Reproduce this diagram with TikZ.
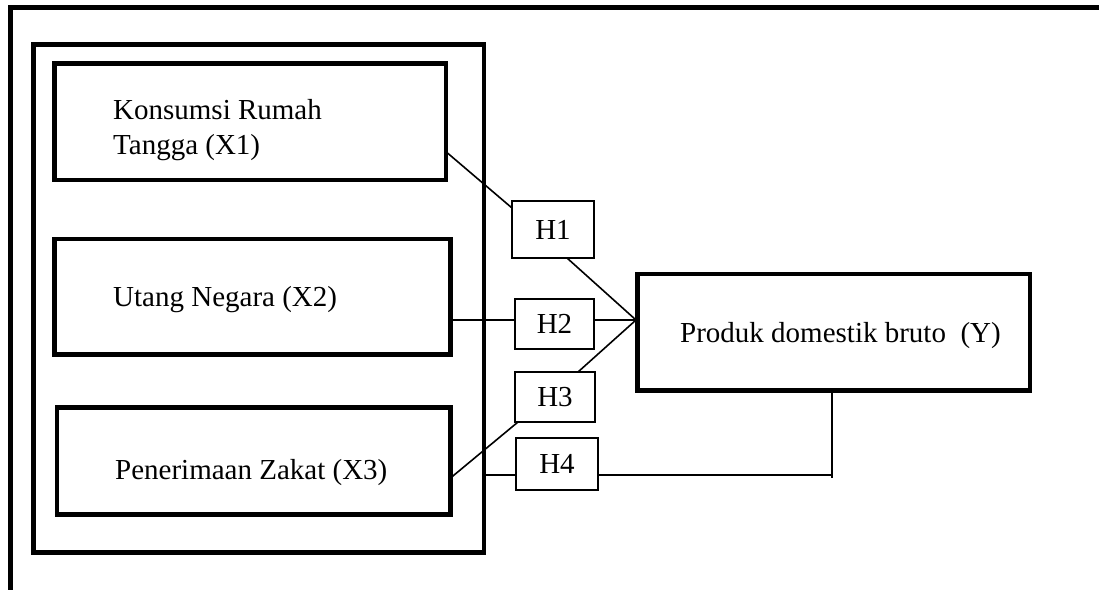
\documentclass[tikz,border=0pt]{standalone}
\usepackage{fontspec}
\setmainfont{Liberation Serif}
\begin{document}
\begin{tikzpicture}[x=1pt,y=-1pt,
  frame/.style={line width=5pt},
  bigbox/.style={draw, line width=4.8pt, inner sep=0pt, outer sep=0pt},
  hbox/.style={draw, line width=1.8pt, inner sep=0pt, outer sep=0pt, font=\fontsize{29}{33}\selectfont},
  label/.style={inner sep=0pt, font=\fontsize{29}{33}\selectfont, anchor=base west},
  conn/.style={line width=1.6pt}
]
\useasboundingbox (0,0) rectangle (1099,589);
% outer frame
\coordinate (ftr) at (1110,7.5);
\coordinate (ftl) at (10.8,7.5);
\coordinate (fbl) at (10.8,600);
\draw[frame] (ftr) -- (ftl) -- (fbl);
% group and variable boxes
\node[bigbox, minimum width=450.5pt, minimum height=508pt] (G) at (258.75,298.5) {};
\node[bigbox, minimum width=391.5pt, minimum height=116.5pt] (X1) at (250.25,121.75) {};
\node[bigbox, minimum width=396pt, minimum height=115.5pt] (X2) at (252.5,296.75) {};
\node[bigbox, minimum width=393.5pt, minimum height=107pt] (X3) at (253.75,461) {};
\node[bigbox, minimum width=392.5pt, minimum height=116.5pt] (Y) at (833.75,332.25) {};
% texts
\node[label] (t1a) at (113,119) {Konsumsi Rumah};
\node[label] (t1b) at (113,154) {Tangga (X1)};
\node[label] (t2) at (113,306) {Utang Negara (X2)};
\node[label] (t3) at (115,479) {Penerimaan Zakat (X3)};
\node[label] (ty) at (680,342) {Produk domestik bruto\ \ (Y)};
% hypothesis boxes
\node[hbox, minimum width=82pt, minimum height=57pt] (H1) at (553,229.5) {H1};
\node[hbox, minimum width=79pt, minimum height=50pt] (H2) at (554.5,324) {H2};
\node[hbox, minimum width=80pt, minimum height=50pt] (H3) at (555,397) {H3};
\node[hbox, minimum width=82pt, minimum height=52pt] (H4) at (557,464) {H4};
% connectors
\coordinate (conv) at (636,320);
\coordinate (h4l) at (832,475);
\coordinate (h4end) at (832,478);
\draw[conn] ([yshift=-30pt]X1.east) -- ([yshift=-7pt]H1.north west);
\draw[conn] ([xshift=14pt]H1.south) -- (conv);
\draw[conn] (X2.east |- conv) -- (H2.west |- conv);
\draw[conn] (H2.east |- conv) -- (conv);
\draw[conn] ([xshift=23pt]H3.north) -- (conv);
\draw[conn] ([yshift=-17pt]X3.east) -- ([xshift=3pt]H3.south west);
\draw[conn] (G.east |- h4l) -- (H4.west |- h4l);
\draw[conn] (H4.east |- h4l) -- (h4l);
\draw[conn] (Y.south -| h4end) -- (h4end);
\end{tikzpicture}
\end{document}
